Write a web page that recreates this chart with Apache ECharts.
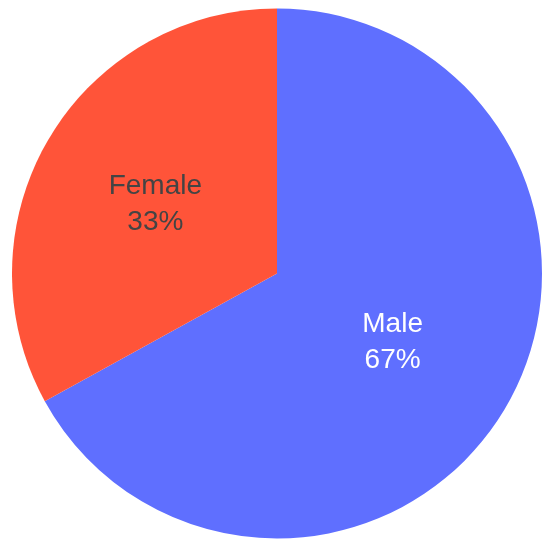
<!DOCTYPE html>
<html>
<head>
<meta charset="utf-8">
<script src="https://cdn.jsdelivr.net/npm/echarts@6/dist/echarts.min.js"></script>
<style>html,body{margin:0;padding:0;background:#fff}#c{width:550px;height:551px}</style>
</head>
<body>
<div id="c"></div>
<script>
const categories = ['Male', 'Female'];
const values = [67, 33];
const colors = ['#5F6FFF', '#FF5439'];
const labelColors = ['#ffffff', '#444444'];

const chart = echarts.init(document.getElementById('c'));
chart.setOption({
  animation: false,
  series: [{
    type: 'pie',
    center: [277, 273.5],
    radius: [0, 265],
    startAngle: 90,
    clockwise: true,
    data: categories.map((name, i) => ({
      name: name,
      value: values[i],
      itemStyle: { color: colors[i] },
      label: { color: labelColors[i], offset: i === 1 ? [-5, 0] : [-1, 0] }
    })),
    label: {
      show: true,
      position: 'inside',
      formatter: p => p.name + '\n' + Math.round(p.percent) + '%',
      fontFamily: 'Liberation Sans, Arial, sans-serif',
      fontSize: 28,
      lineHeight: 36
    },
    labelLine: { show: false },
    itemStyle: { borderWidth: 0 },
    emphasis: { disabled: true }
  }]
});
</script>
</body>
</html>
